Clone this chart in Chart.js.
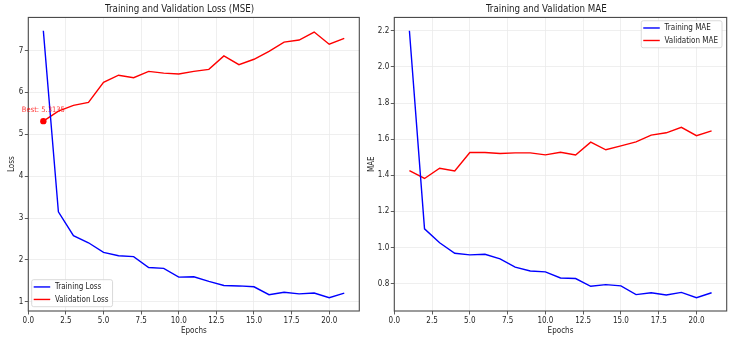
<!DOCTYPE html>
<html>
<head>
<meta charset="utf-8">
<script src="https://cdn.jsdelivr.net/npm/chart.js@4.4.0/dist/chart.umd.min.js"></script>
<style>
  html, body { margin: 0; padding: 0; background: #fff; }
  #wrap { position: relative; width: 733px; height: 344px; }
  .panel { position: absolute; top: 0; height: 344px; }
</style>
</head>
<body>
<div id="wrap">
  <div class="panel" style="left:0;width:366px"><canvas id="lossChart"></canvas></div>
  <div class="panel" style="left:366px;width:367px"><canvas id="maeChart"></canvas></div>
</div>
<script>
// values
const epochs = [1, 2, 3, 4, 5, 6, 7, 8, 9, 10, 11, 12, 13, 14, 15, 16, 17, 18, 19, 20, 21];
const trainLoss = [7.47, 3.15, 2.58, 2.41, 2.18, 2.10, 2.08, 1.82, 1.80, 1.59, 1.60,
                   1.49, 1.39, 1.38, 1.36, 1.17, 1.23, 1.19, 1.21, 1.10, 1.21];
const valLoss = [5.3135, 5.55, 5.69, 5.76, 6.24, 6.41, 6.35, 6.50, 6.46, 6.44, 6.50,
                 6.55, 6.87, 6.66, 6.79, 6.98, 7.20, 7.25, 7.44, 7.15, 7.29];
const trainMae = [2.20, 1.103, 1.026, 0.968, 0.959, 0.962, 0.937, 0.891, 0.870, 0.865, 0.831,
                  0.828, 0.785, 0.794, 0.787, 0.739, 0.749, 0.737, 0.751, 0.722, 0.749];
const valMae = [1.426, 1.382, 1.439, 1.424, 1.526, 1.526, 1.520, 1.524, 1.524, 1.513, 1.527,
                1.512, 1.583, 1.541, 1.563, 1.585, 1.622, 1.635, 1.665, 1.619, 1.646];

const FONT = "'DejaVu Sans Condensed', 'DejaVu Sans', sans-serif";
const TEXT = '#1e1e1e';
const GRID = '#ebebeb';
const SMALL = 8;

const bestVal = Math.min(...valLoss);
const bestEpoch = epochs[valLoss.indexOf(bestVal)];

function pts(ys) {
    return ys.map((y, i) => ({ x: epochs[i], y: y }));
}

// matplotlib style 5% margins
function padRange(arrays) {
    const all = [].concat(...arrays);
    const lo = Math.min(...all), hi = Math.max(...all);
    const m = (hi - lo) * 0.05;
    return { min: lo - m, max: hi + m };
}

// full box around the plot area
const framePlugin = {
    id: 'frame',
    afterDatasetsDraw(chart) {
        const a = chart.chartArea;
        const ctx = chart.ctx;
        ctx.save();
        ctx.strokeStyle = '#4a4a4a';
        ctx.lineWidth = 1.1;
        ctx.strokeRect(a.left, a.top, a.right - a.left, a.bottom - a.top);
        ctx.restore();
    }
};

// "Best: x" note above the best validation point
const bestPlugin = {
    id: 'bestNote',
    afterDatasetsDraw(chart, args, opts) {
        if (!opts.show) return;
        const ctx = chart.ctx;
        const x = chart.scales.x.getPixelForValue(bestEpoch);
        const y = chart.scales.y.getPixelForValue(bestVal);
        ctx.save();
        ctx.font = '7.5px ' + FONT;
        ctx.fillStyle = 'rgba(255,0,0,0.8)';
        ctx.textAlign = 'center';
        ctx.textBaseline = 'middle';
        ctx.fillText('Best: ' + bestVal.toFixed(4), x, y - 11.5);
        ctx.restore();
    }
};

// legend in a framed box inside the plot, like matplotlib
const boxLegend = {
    id: 'boxLegend',
    afterDraw(chart, args, opts) {
        const ctx = chart.ctx;
        const a = chart.chartArea;
        const items = chart.data.datasets.filter(d => d.inLegend !== false);
        ctx.save();
        ctx.font = SMALL + 'px ' + FONT;
        const textW = Math.max(...items.map(d => ctx.measureText(d.label).width));
        const rowH = 12.5;
        const w = 23.3 + textW + 4;
        const h = rowH * items.length + 2;
        let bx, by;
        if (opts.corner === 'upperRight') {
            bx = a.right - 4.7 - w;
            by = a.top + 3.3;
        } else {
            bx = a.left + 3.4;
            by = a.bottom - 4.3 - h;
        }
        ctx.beginPath();
        ctx.roundRect(bx, by, w, h, 2);
        ctx.fillStyle = 'rgba(255,255,255,0.85)';
        ctx.fill();
        ctx.strokeStyle = '#d0d0d0';
        ctx.lineWidth = 0.8;
        ctx.stroke();
        items.forEach((d, i) => {
            const cy = by + 1 + rowH * i + rowH / 2;
            ctx.beginPath();
            ctx.moveTo(bx + 2, cy);
            ctx.lineTo(bx + 18.5, cy);
            ctx.strokeStyle = d.borderColor;
            ctx.lineWidth = 1.4;
            ctx.stroke();
            ctx.fillStyle = TEXT;
            ctx.textAlign = 'left';
            ctx.textBaseline = 'middle';
            ctx.fillText(d.label, bx + 23.3, cy);
        });
        ctx.restore();
    }
};

function makeOptions(cfg) {
    return {
        responsive: true,
        maintainAspectRatio: false,
        animation: false,
        devicePixelRatio: 1,
        layout: { padding: { left: 0, right: cfg.padRight, top: 0, bottom: 0 } },
        elements: { point: { radius: 0 }, line: { tension: 0 } },
        plugins: {
            legend: { display: false },
            tooltip: { enabled: false },
            title: {
                display: true,
                text: cfg.title,
                color: TEXT,
                font: { family: FONT, size: 9.7, weight: 'normal', lineHeight: 1.2 },
                padding: { top: 3.8, bottom: 2.0 }
            },
            boxLegend: { corner: cfg.corner },
            bestNote: { show: cfg.best }
        },
        scales: {
            x: {
                type: 'linear',
                min: 0,
                max: 22,
                afterFit(scale) { scale.height = 33; },
                border: { display: false },
                grid: { color: GRID, tickColor: '#333', tickLength: 3.5, lineWidth: 0.8 },
                ticks: {
                    stepSize: 2.5,
                    includeBounds: false,
                    padding: 1.5,
                    color: TEXT,
                    font: { family: FONT, size: SMALL },
                    maxRotation: 0,
                    callback: v => v.toFixed(1)
                },
                title: {
                    display: true,
                    text: 'Epochs',
                    color: TEXT,
                    font: { family: FONT, size: SMALL, lineHeight: 1.2 },
                    padding: { top: 0, bottom: 8 }
                }
            },
            y: {
                type: 'linear',
                min: cfg.range.min,
                max: cfg.range.max,
                afterFit(scale) { scale.width = 28.3; },
                border: { display: false },
                grid: { color: GRID, tickColor: '#333', tickLength: 3.5, lineWidth: 0.8 },
                ticks: {
                    stepSize: cfg.step,
                    includeBounds: false,
                    padding: 1.5,
                    color: TEXT,
                    font: { family: FONT, size: SMALL },
                    callback: v => v.toFixed(cfg.decimals)
                },
                title: {
                    display: true,
                    text: cfg.yTitle,
                    color: TEXT,
                    font: { family: FONT, size: SMALL, lineHeight: 1.2 },
                    padding: { top: cfg.yTitlePad, bottom: 0 }
                }
            }
        }
    };
}

new Chart(document.getElementById('lossChart'), {
    type: 'line',
    data: {
        datasets: [
            {
                label: 'Best',
                inLegend: false,
                data: [{ x: bestEpoch, y: bestVal }],
                showLine: false,
                pointRadius: 3.2,
                pointBackgroundColor: 'red',
                pointBorderWidth: 0,
                order: -1
            },
            { label: 'Training Loss', data: pts(trainLoss), borderColor: 'blue', borderWidth: 1.4 },
            { label: 'Validation Loss', data: pts(valLoss), borderColor: 'red', borderWidth: 1.4 }
        ]
    },
    options: makeOptions({
        title: 'Training and Validation Loss (MSE)',
        yTitle: 'Loss',
        yTitlePad: 7,
        range: padRange([trainLoss, valLoss]),
        step: 1,
        decimals: 0,
        padRight: 6.7,
        corner: 'lowerLeft',
        best: true
    }),
    plugins: [framePlugin, bestPlugin, boxLegend]
});

new Chart(document.getElementById('maeChart'), {
    type: 'line',
    data: {
        datasets: [
            { label: 'Training MAE', data: pts(trainMae), borderColor: 'blue', borderWidth: 1.4 },
            { label: 'Validation MAE', data: pts(valMae), borderColor: 'red', borderWidth: 1.4 }
        ]
    },
    options: makeOptions({
        title: 'Training and Validation MAE',
        yTitle: 'MAE',
        yTitlePad: 1,
        range: padRange([trainMae, valMae]),
        step: 0.2,
        decimals: 1,
        padRight: 6.3,
        corner: 'upperRight',
        best: false
    }),
    plugins: [framePlugin, bestPlugin, boxLegend]
});
</script>
</body>
</html>
